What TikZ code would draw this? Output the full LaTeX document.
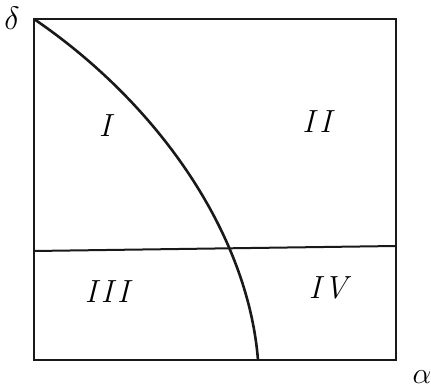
\documentclass[tikz,border=0pt]{standalone}
\usepackage{tikz}
\usetikzlibrary{positioning,calc}

\begin{document}
\begin{tikzpicture}[
  x=1pt, y=-1pt,
  frame/.style={draw=black!90, line width=2.6pt},
  divider/.style={draw=black!90, line width=2pt},
  boundary/.style={draw=black!90, line width=2.6pt},
  region/.style={font=\fontsize{32}{38}\selectfont\itshape, inner sep=0pt},
  axislab/.style={font=\Huge, inner sep=0pt}
]
\useasboundingbox (0,0) rectangle (431,390);
% ----- frame -----
\coordinate (nw) at (34,19);
\coordinate (se) at (396,360);
\draw[frame] (nw) rectangle (se);
% ----- horizontal divider -----
\coordinate (dl) at (34,251);
\coordinate (dr) at (396,246);
\draw[divider] (dl) -- (dr);
% ----- boundary curve -----
\coordinate (cb) at (258,360);
\draw[boundary] (nw) .. controls (160,105) and (248,235) .. (cb);
% ----- region labels -----
\node[region] (r1) at (105,126) {I};
\node[region] (r2) at (317,122) {I\kern5pt I};
\node[region] (r3) at (107,292) {I\kern4pt I\kern4pt I};
\node[region] (r4) at (328,288) {I\kern3pt V};
% ----- axis labels -----
\node[axislab, scale=1.3] (delta) at (12,18) {$\delta$};
\node[axislab, scale=1.2] (alpha) at (422,377) {$\alpha$};
\end{tikzpicture}
\end{document}
